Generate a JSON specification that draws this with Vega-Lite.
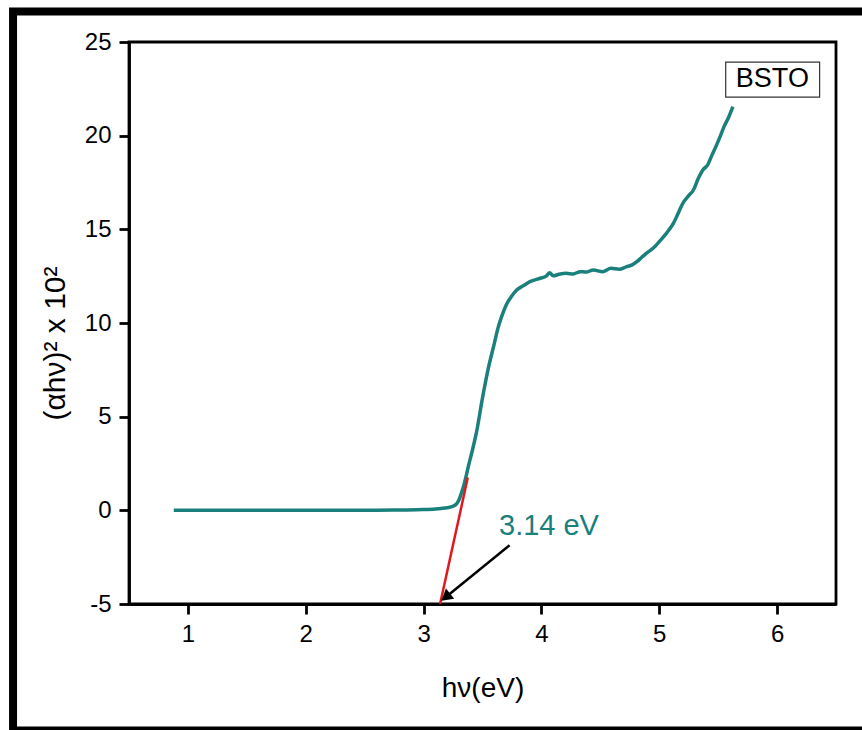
{
  "$schema": "https://vega.github.io/schema/vega-lite/v6.json",
  "autosize": {"type": "none"},
  "width": 707,
  "height": 562,
  "padding": {"left": 129, "top": 42, "right": 26, "bottom": 126},
  "background": "white",
  "config": {
    "view": {"stroke": "black", "strokeWidth": 2.8},
    "font": "Liberation Sans",
    "axis": {
      "grid": false,
      "domainColor": "black",
      "domainWidth": 2.8,
      "tickColor": "black",
      "tickWidth": 2.8,
      "tickSize": 10,
      "labelFont": "Liberation Sans",
      "labelFontSize": 24,
      "labelColor": "black",
      "labelExpr": "'' + datum.value",
      "titleFont": "Liberation Sans",
      "titleFontSize": 28,
      "titleFontWeight": "normal",
      "titleColor": "black"
    }
  },
  "datasets": {
    "curve": [
      {"hv": 0.88, "v": 0.0}, {"hv": 1.0, "v": 0.0}, {"hv": 1.5, "v": 0.0}, {"hv": 2.0, "v": 0.0},
      {"hv": 2.5, "v": 0.0}, {"hv": 2.8, "v": 0.02}, {"hv": 3.0, "v": 0.04}, {"hv": 3.1, "v": 0.07},
      {"hv": 3.15, "v": 0.1}, {"hv": 3.2, "v": 0.14}, {"hv": 3.25, "v": 0.22}, {"hv": 3.28, "v": 0.35},
      {"hv": 3.3, "v": 0.55}, {"hv": 3.32, "v": 0.9}, {"hv": 3.34, "v": 1.3}, {"hv": 3.36, "v": 1.8},
      {"hv": 3.38, "v": 2.35}, {"hv": 3.41, "v": 3.1},
      {"hv": 3.45, "v": 4.2}, {"hv": 3.5, "v": 6.0}, {"hv": 3.55, "v": 7.6}, {"hv": 3.6, "v": 8.9},
      {"hv": 3.63, "v": 9.7}, {"hv": 3.66, "v": 10.3}, {"hv": 3.7, "v": 10.95}, {"hv": 3.75, "v": 11.45},
      {"hv": 3.79, "v": 11.76}, {"hv": 3.85, "v": 12.0}, {"hv": 3.9, "v": 12.2}, {"hv": 3.99, "v": 12.39},
      {"hv": 4.04, "v": 12.5}, {"hv": 4.07, "v": 12.68}, {"hv": 4.1, "v": 12.52}, {"hv": 4.15, "v": 12.6},
      {"hv": 4.21, "v": 12.65}, {"hv": 4.27, "v": 12.62}, {"hv": 4.33, "v": 12.74}, {"hv": 4.38, "v": 12.72},
      {"hv": 4.44, "v": 12.83}, {"hv": 4.52, "v": 12.74}, {"hv": 4.59, "v": 12.92}, {"hv": 4.66, "v": 12.87},
      {"hv": 4.72, "v": 13.0}, {"hv": 4.77, "v": 13.1}, {"hv": 4.81, "v": 13.27}, {"hv": 4.85, "v": 13.5},
      {"hv": 4.89, "v": 13.72}, {"hv": 4.95, "v": 14.0}, {"hv": 5.0, "v": 14.34}, {"hv": 5.05, "v": 14.7},
      {"hv": 5.08, "v": 14.95}, {"hv": 5.12, "v": 15.32}, {"hv": 5.16, "v": 15.85}, {"hv": 5.2, "v": 16.39},
      {"hv": 5.25, "v": 16.8}, {"hv": 5.29, "v": 17.1}, {"hv": 5.33, "v": 17.7}, {"hv": 5.37, "v": 18.17},
      {"hv": 5.41, "v": 18.43}, {"hv": 5.45, "v": 19.0}, {"hv": 5.48, "v": 19.41}, {"hv": 5.52, "v": 20.0},
      {"hv": 5.55, "v": 20.48}, {"hv": 5.59, "v": 21.0}, {"hv": 5.625, "v": 21.55}
    ],
    "tangent": [{"hv": 3.14, "v": -5}, {"hv": 3.375, "v": 1.75}],
    "arrow": [{"x1": 3.73, "y1": -1.86, "x2": 3.2, "y2": -4.57}],
    "arrowhead": [{"hv": 3.2, "v": -4.57}],
    "label": [{"hv": 3.64, "v": -0.84, "t": "3.14 eV"}],
    "sample": [{"hv": 5.96, "v": 23.0, "t": "BSTO"}]
  },
  "layer": [
    {
      "data": {"values": [{}]},
      "mark": {"type": "rect", "fill": null, "fillOpacity": 0, "stroke": "black", "strokeWidth": 8, "clip": false},
      "encoding": {
        "x": {"datum": -0.484, "type": "quantitative"},
        "x2": {"datum": 6.85},
        "y": {"datum": 26.63, "type": "quantitative"},
        "y2": {"datum": -11.75}
      }
    },
    {
      "data": {"name": "curve"},
      "mark": {"type": "line", "color": "#1a807c", "strokeWidth": 3.5, "interpolate": "monotone"},
      "encoding": {
        "x": {
          "field": "hv", "type": "quantitative",
          "scale": {"domain": [0.5, 6.5], "nice": false, "zero": false},
          "axis": {"title": "hν(eV)", "values": [1, 2, 3, 4, 5, 6], "labelPadding": 8, "titlePadding": 28}
        },
        "y": {
          "field": "v", "type": "quantitative",
          "scale": {"domain": [-5, 25], "nice": false, "zero": false},
          "axis": {"title": "(αhν)² x 10²", "titleFontSize": 30, "values": [-5, 0, 5, 10, 15, 20, 25], "labelPadding": 8, "titlePadding": 14, "titleY": 301}
        }
      }
    },
    {
      "data": {"name": "tangent"},
      "mark": {"type": "line", "color": "#e0191e", "strokeWidth": 2.5},
      "encoding": {
        "x": {"field": "hv", "type": "quantitative"},
        "y": {"field": "v", "type": "quantitative"}
      }
    },
    {
      "data": {"name": "arrow"},
      "mark": {"type": "rule", "color": "black", "strokeWidth": 2.5},
      "encoding": {
        "x": {"field": "x1", "type": "quantitative"},
        "y": {"field": "y1", "type": "quantitative"},
        "x2": {"field": "x2"},
        "y2": {"field": "y2"}
      }
    },
    {
      "data": {"name": "arrowhead"},
      "mark": {"type": "point", "shape": "triangle", "filled": true, "color": "black", "size": 170, "angle": 231, "opacity": 1},
      "encoding": {
        "x": {"field": "hv", "type": "quantitative"},
        "y": {"field": "v", "type": "quantitative"}
      }
    },
    {
      "data": {"name": "label"},
      "mark": {"type": "text", "align": "left", "baseline": "middle", "fontSize": 29, "color": "#1a807c", "font": "Liberation Sans"},
      "encoding": {
        "x": {"field": "hv", "type": "quantitative"},
        "y": {"field": "v", "type": "quantitative"},
        "text": {"field": "t"}
      }
    },
    {
      "data": {"values": [{}]},
      "mark": {"type": "rect", "fill": "white", "stroke": "#333333", "strokeWidth": 1.2},
      "encoding": {
        "x": {"datum": 5.564, "type": "quantitative"},
        "x2": {"datum": 6.361},
        "y": {"datum": 23.93, "type": "quantitative"},
        "y2": {"datum": 22.06}
      }
    },
    {
      "data": {"name": "sample"},
      "mark": {"type": "text", "align": "center", "baseline": "middle", "fontSize": 27, "color": "black", "font": "Liberation Sans"},
      "encoding": {
        "x": {"field": "hv", "type": "quantitative"},
        "y": {"field": "v", "type": "quantitative"},
        "text": {"field": "t"}
      }
    }
  ]
}
